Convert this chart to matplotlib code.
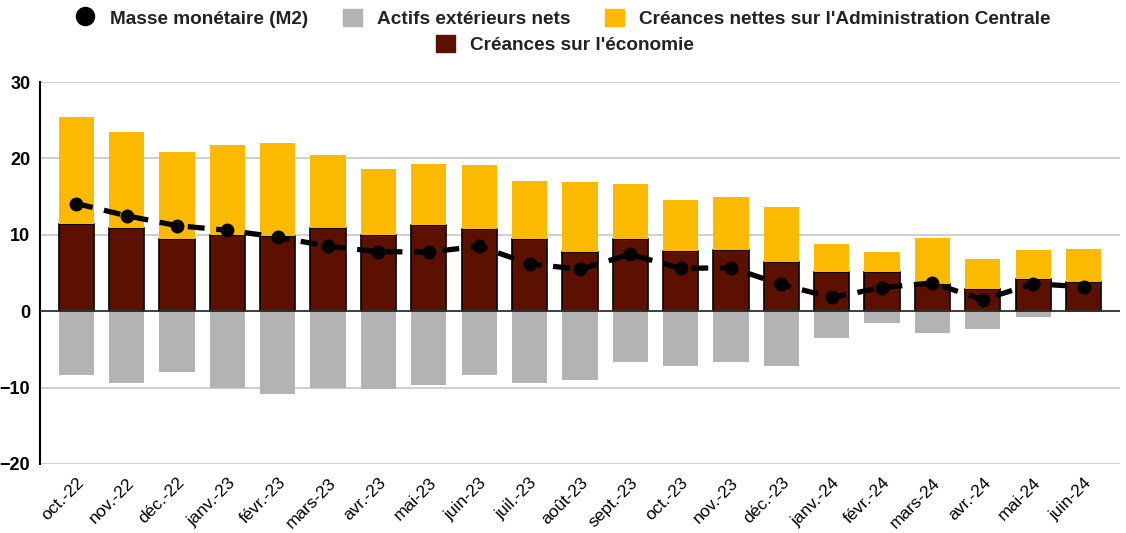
import matplotlib.pyplot as plt
from matplotlib.lines import Line2D
import matplotlib.patches as mpatch
import numpy as np

plt.rcParams['font.family'] = ['Liberation Sans', 'DejaVu Sans']

months = ['oct.-22', 'nov.-22', 'déc.-22', 'janv.-23', 'févr.-23', 'mars-23',
          'avr.-23', 'mai-23', 'juin-23', 'juil.-23', 'août-23', 'sept.-23',
          'oct.-23', 'nov.-23', 'déc.-23', 'janv.-24', 'févr.-24', 'mars-24',
          'avr.-24', 'mai-24', 'juin-24']
# créances sur l'économie
economie = [11.4, 10.9, 9.5, 10.0, 9.9, 10.9, 10.0, 11.3, 10.7, 9.5, 7.8,
            9.5, 7.9, 8.0, 6.4, 5.2, 5.2, 3.6, 2.9, 4.2, 3.8]
# créances nettes sur l'administration centrale
admin = [14.0, 12.5, 11.3, 11.7, 12.1, 9.6, 8.6, 8.0, 8.4, 7.6, 9.1,
         7.2, 6.7, 6.9, 7.2, 3.6, 2.55, 6.0, 4.0, 3.8, 4.3]
# actifs extérieurs nets
actifs = [-8.4, -9.4, -8.0, -10.0, -10.8, -10.0, -10.2, -9.6, -8.4, -9.4,
          -9.0, -6.6, -7.2, -6.6, -7.2, -3.5, -1.6, -2.8, -2.3, -0.8, 0.0]
# masse monétaire (M2)
m2 = [14.1, 12.5, 11.2, 10.6, 9.7, 8.5, 7.8, 7.75, 8.5, 6.2, 5.5, 7.45,
      5.6, 5.7, 3.5, 1.8, 3.1, 3.7, 1.5, 3.6, 3.2]

c_eco = '#5c1000'
c_adm = '#fbba00'
c_act = '#b3b3b3'

fig = plt.figure(figsize=(11.26, 5.33), dpi=100)
ax = fig.add_axes([0.0355, 0.1295, 0.9595, 0.7165])

x = np.arange(len(months))
w = 0.7
ax.bar(x, actifs, w, color=c_act, zorder=2)
ax.bar(x, economie, w, color=c_eco, edgecolor='black', linewidth=1.2, zorder=2)
ax.bar(x, admin, w, bottom=economie, color=c_adm, zorder=2)
ax.plot(x, m2, color='black', lw=3.8, linestyle=(0, (3.2, 2.2)), marker='o',
        markersize=9, zorder=4)

ax.set_ylim(-20, 30)
ax.set_xlim(-0.72, len(months) - 0.27)
ax.set_yticks([-20, -10, 0, 10, 20, 30])
ax.yaxis.grid(True, color='#d0d0d0', lw=1.5, zorder=0)
ax.axhline(0, color='#333333', lw=1.3, zorder=3)
for s in ['top', 'right', 'bottom']:
    ax.spines[s].set_visible(False)
ax.spines['left'].set_linewidth(1.5)
ax.tick_params(axis='y', length=0, pad=7, labelsize=13)
ax.tick_params(axis='x', length=0, pad=8, labelsize=12.5)
for lab in ax.get_yticklabels():
    lab.set_fontweight('bold')
ax.set_xticks(x)
ax.set_xticklabels(months, rotation=45, ha='right', rotation_mode='anchor')

h1 = [Line2D([0], [0], marker='o', linestyle='none', markerfacecolor='black',
             markeredgecolor='black', markersize=13, label='Masse monétaire (M2)'),
      mpatch.Patch(color=c_act, label='Actifs extérieurs nets'),
      mpatch.Patch(color=c_adm, label="Créances nettes sur l'Administration Centrale")]
h2 = [mpatch.Patch(color=c_eco, label="Créances sur l'économie")]
kw = dict(frameon=False, prop={'weight': 'bold', 'size': 13.7},
          handlelength=1.0, handleheight=1.0, handletextpad=0.8,
          columnspacing=1.8)
leg1 = fig.legend(handles=h1, loc='center', bbox_to_anchor=(0.500, 0.966),
                  ncol=3, **kw)
leg2 = fig.legend(handles=h2, loc='center', bbox_to_anchor=(0.502, 0.917),
                  ncol=1, **kw)
for leg in (leg1, leg2):
    for t in leg.get_texts():
        t.set_color('#222222')

fig.savefig('out.png', dpi=100)
